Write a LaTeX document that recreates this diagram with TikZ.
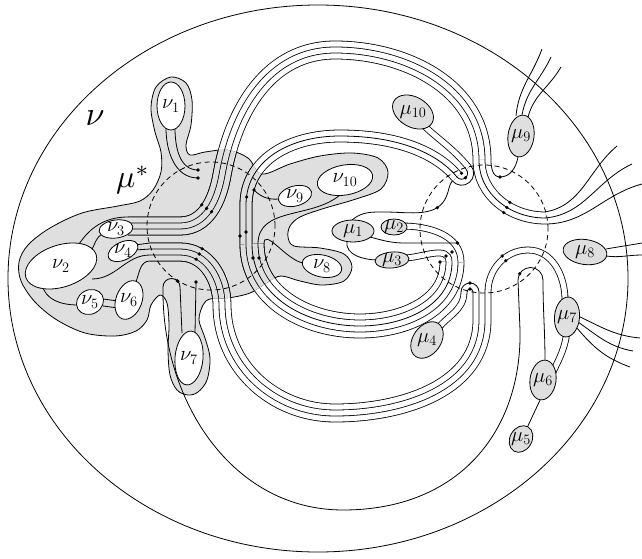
\documentclass[tikz,border=0pt]{standalone}
\usetikzlibrary{shapes.geometric}
\tikzset{
  cab2/.style={line width=6.8pt,postaction={draw=#1,line width=5.2pt}},
  cab2/.default=white,
  cab3/.style={line width=12.8pt,postaction={draw=#1,line width=11.2pt},postaction={draw=black,line width=0.8pt}},
  cab3/.default=white,
  cab4/.style={line width=18.8pt,postaction={draw=#1,line width=17.2pt},postaction={draw=black,line width=6.8pt},postaction={draw=#1,line width=5.2pt}},
  cab4/.default=white,
  cab5/.style={line width=24.8pt,postaction={draw=#1,line width=23.2pt},postaction={draw=black,line width=12.8pt},postaction={draw=#1,line width=11.2pt},postaction={draw=black,line width=0.8pt}},
  cab5/.default=white
}
% shaded region and the bundles that run through it
\def\blobpath{plot[smooth cycle,tension=0.55] coordinates {(171,-77) (186,-83) (192,-100) (191,-125) (186,-145) (190,-155) (205,-152) (228,-150) (248,-158) (262,-174) (290,-164) (320,-156) (352,-153) (378,-158) (388,-172) (381,-189) (356,-199) (322,-209) (300,-217) (290,-226) (288,-237) (294,-246) (320,-248) (344,-254) (352,-267) (344,-281) (322,-285) (300,-281) (281,-276) (268,-282) (250,-293) (228,-298) (210,-299) (203,-305) (199,-320) (205,-338) (210,-358) (207,-380) (198,-392) (188,-395) (177,-390) (170,-375) (168,-350) (169,-325) (167,-303) (160,-295) (151,-305) (147,-320) (136,-331) (115,-336) (85,-333) (57,-320) (35,-302) (21,-281) (19,-262) (28,-245) (50,-228) (82,-213) (118,-206) (140,-201) (153,-190) (161,-172) (161,-152) (155,-132) (151,-108) (156,-87)}}
\def\pCone{(128,-226) -- (180,-226) to[out=0,in=-100] (222,-175) to[out=80,in=180] (335,-50) to[out=0,in=90] (482,-160)}
\def\pTtwo{(246,-244) -- (246,-205) .. controls (246,-160) and (290,-136) .. (340,-136) .. controls (400,-136) and (438,-154) .. (457,-177)}
\def\pLtwo{(252,-244) to[out=-90,in=180] (360,-326) to[out=0,in=-90] (452,-262)}
\def\pLone{(150,-252) -- (180,-252) to[out=0,in=90] (222,-305) to[out=-90,in=180] (335,-413) to[out=0,in=-90] (482,-320) -- (482,-292)}

\begin{document}
\begin{tikzpicture}[x=1pt,y=1pt,line width=0.8pt,
  nuell/.style={ellipse,draw,fill=white,inner sep=0pt},
  muell/.style={ellipse,draw,fill=gray!25,inner sep=0pt},
  lbl/.style={font=\huge,inner sep=0pt},
  halo/.style={dash pattern=on 5pt off 3.5pt}
]
\useasboundingbox (0,0) rectangle (642,-559);
\draw (318,-278.5) ellipse [x radius=310,y radius=273.5];
\draw[fill=gray!25] \blobpath;

% bundles
\draw[cab4] \pCone;
\draw[cab3] (479,-160) to[out=-90,in=180] (545,-218);
\draw[cab3] \pTtwo;
\draw[cab5] \pLtwo;
\draw[cab4] \pLone;
\draw[cab2] (418,-120) to[out=-45,in=129.6] (468.6,-167.4);
\draw[cab2] (461,-262) to[out=90,in=0] (402,-226);
\draw[cab2] (449,-262) to[out=90,in=0] (404,-258);
\draw[cab2] (436,-331) to[out=55,in=-90] (464,-292);
\draw[cab2] (488,-292) to[out=90,in=180] (528,-250) to[out=0,in=90] (565,-300);
\draw[cab2] (567,-330) to[out=-95,in=65] (553,-372);
\begin{scope}
  \clip \blobpath;
  \draw[cab4=gray!25] \pCone;
  \draw[cab3=gray!25] \pTtwo;
  \draw[cab5=gray!25] \pLtwo;
  \draw[cab4=gray!25] \pLone;
\end{scope}

% caps
\draw (466.2,-169.4) arc[start angle=39.6,delta angle=-180,radius=6];
\draw (470.9,-165.6) arc[start angle=39.6,delta angle=-180,radius=12];
\draw (467,-292) arc[start angle=180,end angle=0,radius=3];
\draw (461,-292) arc[start angle=180,end angle=0,radius=9];

% single strands, right side
\draw (491,-160) to[out=-90,in=180] (500,-177) to[out=0,in=-100] (518,-157);
\draw (545,-212) to[out=10,in=220] (617,-146);
\draw (545,-218) to[out=5,in=205] (632,-164);
\draw (545,-224) to[out=0,in=195] (642,-184);
\draw (516,-116) to[out=85,in=250] (542,-49);
\draw (522,-115) to[out=80,in=245] (551,-57);
\draw (528,-117) to[out=75,in=240] (561,-67);
\draw (606,-249) to[out=10,in=190] (642,-243);
\draw (606,-256) to[out=-8,in=180] (642,-255);
\draw (578,-316) to[out=-25,in=175] (640,-338);
\draw (578,-322) to[out=-35,in=170] (633,-351);
\draw (577,-328) to[out=-50,in=160] (630,-367);
\draw (541,-398) -- (526,-430);
\draw (352,-220) to[out=40,in=180] (385,-212) to[out=0,in=-110] (447,-195) to[out=70,in=-125] (452.3,-180.8);
\draw (370,-237) to[out=-15,in=180] (405,-243) -- (457.5,-243);
\draw (347,-241) to[out=-100,in=180] (378,-260);
\draw (182,-333) -- (180,-287) arc[start angle=0,end angle=180,radius=8.5] -- (163,-292)
  to[out=-90,in=180] (343,-510) .. controls (460,-510) and (522,-430) .. (520,-330) -- (518,-280)
  arc[start angle=180,end angle=0,radius=12.5] to[out=-90,in=90] (545,-362);

% single strands, left side
\draw (195,-333) -- (196,-283);
\draw (166,-128) to[out=-90,in=180] (198,-178);
\draw (175,-128) to[out=-90,in=180] (198,-170);
\draw (128,-217) to[out=180,in=60] (76,-249);
\draw (90,-252) to[out=50,in=200] (103,-234);
\draw (42,-284) to[out=-80,in=180] (78,-305);
\draw (103,-299) -- (118,-301);
\draw (103,-306) -- (118,-308);
\draw (92,-279) to[out=0,in=180] (150,-255);
\draw (136,-282) to[out=70,in=180] (150,-261);
\draw (135,-245) -- (150,-243);
\draw (135,-250) -- (150,-249);
\draw (279,-199) to[out=185,in=-45] (254,-190);
\draw (340,-195) to[out=220,in=90] (258,-244);
\draw (303,-263) to[out=170,in=90] (264,-244);

% the two discs
\draw[halo] (211,-226) circle (64);
\draw[halo] (484,-229) circle (64);

\foreach \n/\x/\y/\w/\h/\r in {1/171/-106/28/48/0, 2/61/-266/74/42/18, 3/116/-229/34/18/8,
  4/123/-251/32/18/25, 5/90/-302/28/24/30, 6/129/-300/40/26/70, 7/189/-358/28/54/-5,
  8/322/-266/40/22/-12, 9/295/-196/34/20/15, 10/345/-180/56/30/10}{
  \node[nuell,minimum width=\w pt,minimum height=\h pt,rotate=\r] (nu\n) at (\x,\y) {};
  \node[lbl] (lnu\n) at (nu\n) {$\nu_{\n}$};
}
\foreach \n/\x/\y/\w/\h/\r in {1/353/-231/42/22/0, 2/394/-227/26/16/0, 3/392/-260/34/16/5,
  4/427/-340/40/28/55, 5/521/-439/28/22/60, 6/543/-380/26/40/-8, 7/567/-317/25/40/-5,
  8/585/-252/44/25/-8, 9/521/-136/26/42/-8, 10/413/-112/44/30/-30}{
  \node[muell,minimum width=\w pt,minimum height=\h pt,rotate=\r] (mu\n) at (\x,\y) {};
  \node[lbl] (lmu\n) at (mu\n) {$\mu_{\n}$};
}

\foreach \p in {(198,-170),(198,-178),(201.7,-204.9),(206.6,-208.4),(211.6,-211.8),
  (202.1,-248.7),(199.2,-254),(196.2,-259.2),(177.5,-281),(196,-282),(254,-190),
  (246.6,-197),(240,-236),(246,-232),(259,-258),(253,-258),(500,-177),(503.7,-212.6),
  (506.8,-207.5),(509.9,-202.4),(461.6,-173.2),(465.4,-177.8),(437.3,-207.7),
  (457.5,-243),(440,-262),(446,-256),(452,-252),(470,-283),(470,-289),(502.2,-256),
  (505.8,-260.7),(519.7,-273.8)}
  \fill \p circle (1.8);

\node[scale=3.4] (nulbl) at (95,-118) {$\nu$};
\node[scale=3.2] (mustar) at (133,-180) {$\mu^*$};
\end{tikzpicture}
\end{document}
